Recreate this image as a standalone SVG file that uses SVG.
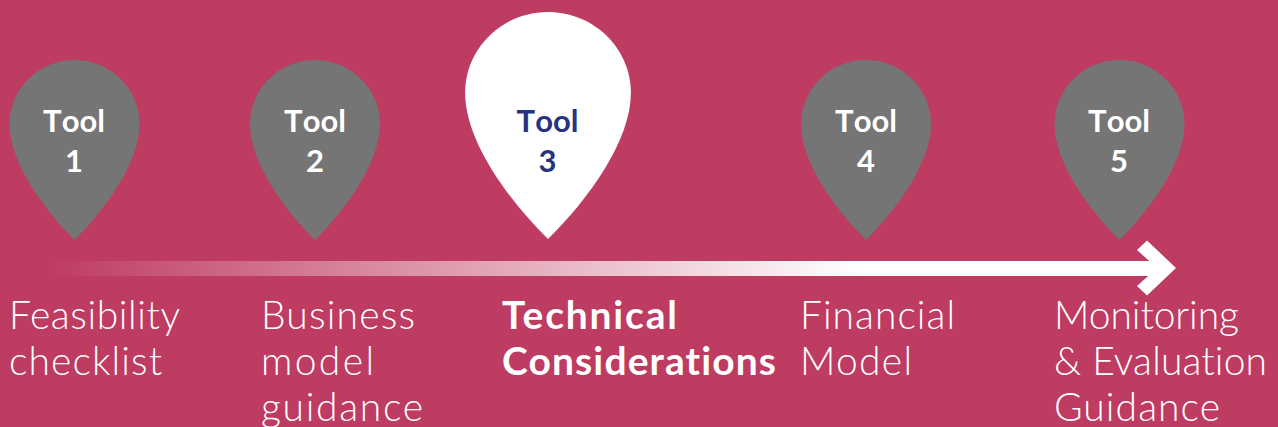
<svg xmlns="http://www.w3.org/2000/svg" width="1278" height="427" viewBox="0 0 1278 427">
<style>
.bg{fill:#be3b61}
.pin{fill:#757575}
.tool{font-family:"Lato","Liberation Sans",sans-serif;font-weight:700;font-size:31px;fill:#fff;text-anchor:middle;font-kerning:none}
.lbl{font-family:"Lato","Liberation Sans",sans-serif;font-weight:300;font-size:39px;fill:#fff;font-variant-ligatures:none}
.b{font-weight:700}
</style>
<defs>
<path id="p" d="M0 0C36 0 65 29 65 64C65 102 32 148 0 180C-32 148 -65 102 -65 64C-65 29 -36 0 0 0Z"/>
<linearGradient id="g" gradientUnits="userSpaceOnUse" x1="45" y1="0" x2="860" y2="0">
<stop offset="0" stop-color="#fff" stop-opacity="0"/>
<stop offset="1" stop-color="#fff"/>
</linearGradient>
</defs>
<rect class="bg" width="1278" height="427"/>
<g id="connectors">
<rect x="45" y="261" width="1115" height="15" fill="url(#g)"/>
<path fill="#fff" d="M1147 240.500L1176 268L1147 295.500L1137 286L1157 268L1137 250Z"/>
</g>
<g id="tool1"><use href="#p" class="pin" transform="translate(74.500 60)"/><text class="tool" x="74" y="132">Tool</text><text class="tool" x="74" y="172">1</text></g>
<g id="tool2"><use href="#p" class="pin" transform="translate(315 60)"/><text class="tool" x="315" y="132">Tool</text><text class="tool" x="315" y="172">2</text></g>
<g id="tool3"><use href="#p" fill="#fff" transform="translate(548 12) scale(1.275 1.261)"/><text class="tool" x="547.500" y="132" style="fill:#27337f">Tool</text><text class="tool" x="547.500" y="172" style="fill:#27337f">3</text></g>
<g id="tool4"><use href="#p" class="pin" transform="translate(866 60)"/><text class="tool" x="866" y="132">Tool</text><text class="tool" x="866" y="172">4</text></g>
<g id="tool5"><use href="#p" class="pin" transform="translate(1119.500 60)"/><text class="tool" x="1119" y="132">Tool</text><text class="tool" x="1119" y="172">5</text></g>
<g id="label1"><text class="lbl" x="9" y="329" textLength="171">Feasibility</text><text class="lbl" x="9" y="375" textLength="153">checklist</text></g>
<g id="label2"><text class="lbl" x="261" y="329" textLength="154">Business</text><text class="lbl" x="261" y="375" textLength="113">model</text><text class="lbl" x="261" y="421" textLength="162">guidance</text></g>
<g id="label3"><text class="lbl b" x="502" y="329" textLength="175">Technical</text><text class="lbl b" x="502" y="375" textLength="274">Considerations</text></g>
<g id="label4"><text class="lbl" x="800" y="329" textLength="155">Financial</text><text class="lbl" x="800" y="375" textLength="112">Model</text></g>
<g id="label5"><text class="lbl" x="1054" y="329" textLength="185">Monitoring</text><text class="lbl" x="1054" y="375" textLength="213">&amp; Evaluation</text><text class="lbl" x="1054" y="421" textLength="166">Guidance</text></g>
</svg>
